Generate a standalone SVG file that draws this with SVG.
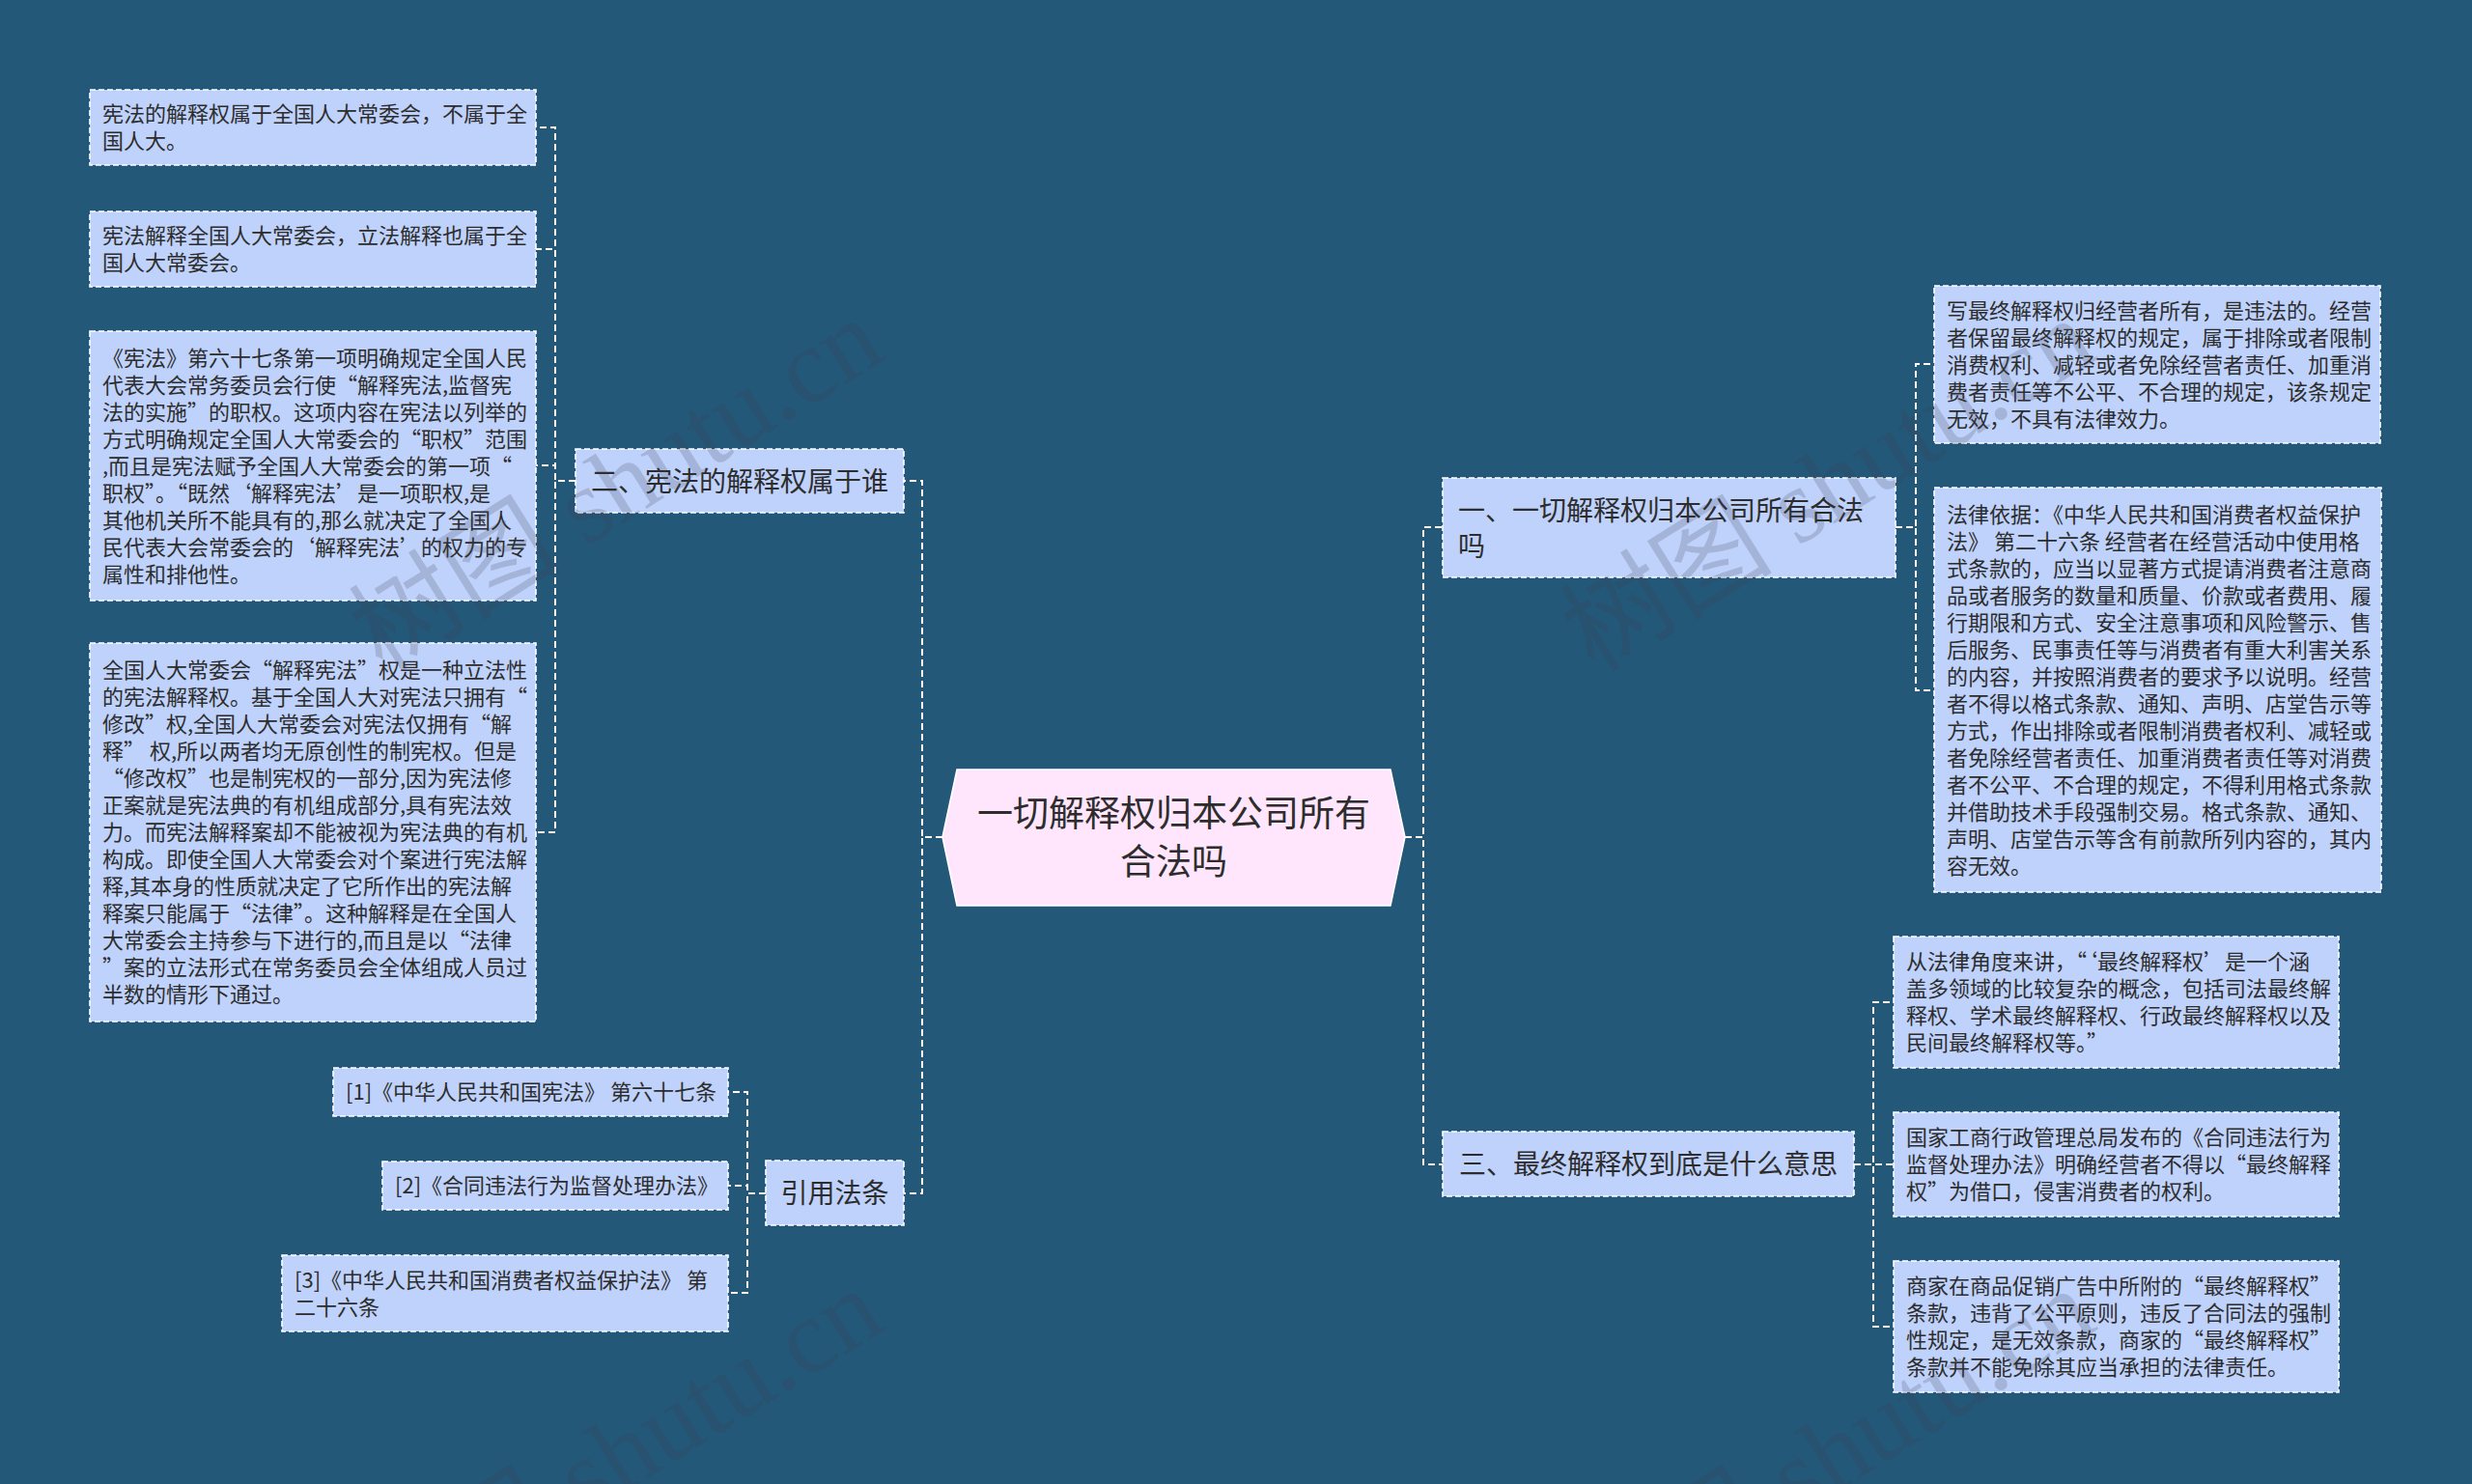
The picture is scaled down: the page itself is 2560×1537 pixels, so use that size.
<svg xmlns="http://www.w3.org/2000/svg" width="2560" height="1537" viewBox="0 0 2560 1537">
<style>
.bg{fill:#235878}
.box{fill:#bfd2fb;stroke:#ffffff;stroke-width:1.6;stroke-dasharray:6 3}
.hex{fill:#ffe6fc;stroke:#ffffff;stroke-width:1.5}
.t{font-family:"Noto Sans CJK SC","Noto Sans CJK TC",sans-serif;fill:#2d2d2d}
.s{font-size:22px}
.m{font-size:28px}
.c{font-size:37px}
.link{fill:none;stroke:#ffffff;stroke-width:2;stroke-dasharray:7 4}
.wm{font-family:"Liberation Serif","Noto Sans CJK SC",serif;font-size:110px;fill:#3a3a50;fill-opacity:0.2}
</style>
<rect class="bg" x="0" y="0" width="2560" height="1537"/>
<g id="connectors">
<path class="link" d="M976,867 H955 V498 H936"/>
<path class="link" d="M976,867 H955 V1236 H936"/>
<path class="link" d="M596,498 H575 V132 H555"/>
<path class="link" d="M596,498 H575 V258 H555"/>
<path class="link" d="M596,498 H575 V482 H555"/>
<path class="link" d="M596,498 H575 V862 H555"/>
<path class="link" d="M793,1236 H774 V1131 H754"/>
<path class="link" d="M793,1236 H774 V1228 H754"/>
<path class="link" d="M793,1236 H774 V1339 H754"/>
<path class="link" d="M1455,867 H1474 V546 H1494"/>
<path class="link" d="M1455,867 H1474 V1206 H1494"/>
<path class="link" d="M1963,546 H1984 V377 H2003"/>
<path class="link" d="M1963,546 H1984 V715 H2003"/>
<path class="link" d="M1920,1206 H1940 V1038 H1961"/>
<path class="link" d="M1920,1206 H1940 V1206 H1961"/>
<path class="link" d="M1920,1206 H1940 V1374 H1961"/>
</g>
<g id="center">
<polygon class="hex" points="976,867 991,797 1440,797 1455,867 1440,938 991,938"/>
<text class="t c" text-anchor="middle"><tspan x="1215.5" y="856">一切解释权归本公司所有</tspan><tspan x="1215.5" y="906">合法吗</tspan></text>
</g>
<g id="node-er">
<rect class="box" x="596" y="465" width="340" height="66"/>
<text class="t m" x="612" y="509">二、宪法的解释权属于谁</text>
</g>
<g id="node-l1">
<rect class="box" x="93" y="93" width="462" height="78"/>
<text class="t s"><tspan x="106" y="126">宪法的解释权属于全国人大常委会，不属于全</tspan><tspan x="106" y="154">国人大。</tspan></text>
</g>
<g id="node-l2">
<rect class="box" x="93" y="219" width="462" height="78"/>
<text class="t s"><tspan x="106" y="252">宪法解释全国人大常委会，立法解释也属于全</tspan><tspan x="106" y="280">国人大常委会。</tspan></text>
</g>
<g id="node-l3">
<rect class="box" x="93" y="343" width="462" height="279"/>
<text class="t s"><tspan x="106" y="378.5">《宪法》第六十七条第一项明确规定全国人民</tspan><tspan x="106" y="406.5">代表大会常务委员会行使“解释宪法,监督宪</tspan><tspan x="106" y="434.5">法的实施”的职权。这项内容在宪法以列举的</tspan><tspan x="106" y="462.5">方式明确规定全国人大常委会的“职权”范围</tspan><tspan x="106" y="490.5">,而且是宪法赋予全国人大常委会的第一项“</tspan><tspan x="106" y="518.5">职权”。“既然‘解释宪法’是一项职权,是</tspan><tspan x="106" y="546.5">其他机关所不能具有的,那么就决定了全国人</tspan><tspan x="106" y="574.5">民代表大会常委会的‘解释宪法’的权力的专</tspan><tspan x="106" y="602.5">属性和排他性。</tspan></text>
</g>
<g id="node-l4">
<rect class="box" x="93" y="666" width="462" height="392"/>
<text class="t s"><tspan x="106" y="702">全国人大常委会“解释宪法”权是一种立法性</tspan><tspan x="106" y="730">的宪法解释权。基于全国人大对宪法只拥有“</tspan><tspan x="106" y="758">修改”权,全国人大常委会对宪法仅拥有“解</tspan><tspan x="106" y="786">释” 权,所以两者均无原创性的制宪权。但是</tspan><tspan x="106" y="814">“修改权”也是制宪权的一部分,因为宪法修</tspan><tspan x="106" y="842">正案就是宪法典的有机组成部分,具有宪法效</tspan><tspan x="106" y="870">力。而宪法解释案却不能被视为宪法典的有机</tspan><tspan x="106" y="898">构成。即使全国人大常委会对个案进行宪法解</tspan><tspan x="106" y="926">释,其本身的性质就决定了它所作出的宪法解</tspan><tspan x="106" y="954">释案只能属于“法律”。这种解释是在全国人</tspan><tspan x="106" y="982">大常委会主持参与下进行的,而且是以“法律</tspan><tspan x="106" y="1010">”案的立法形式在常务委员会全体组成人员过</tspan><tspan x="106" y="1038">半数的情形下通过。</tspan></text>
</g>
<g id="node-yinyong">
<rect class="box" x="793" y="1202" width="143" height="67"/>
<text class="t m" x="864.5" y="1246" text-anchor="middle">引用法条</text>
</g>
<g id="node-ref1">
<rect class="box" x="345" y="1106" width="409" height="50"/>
<text class="t s" x="358" y="1139">[1]《中华人民共和国宪法》 第六十七条</text>
</g>
<g id="node-ref2">
<rect class="box" x="396" y="1203" width="358" height="50"/>
<text class="t s" x="409" y="1236">[2]《合同违法行为监督处理办法》</text>
</g>
<g id="node-ref3">
<rect class="box" x="292" y="1300" width="462" height="79"/>
<text class="t s"><tspan x="305" y="1334">[3]《中华人民共和国消费者权益保护法》 第</tspan><tspan x="305" y="1362">二十六条</tspan></text>
</g>
<g id="node-yi">
<rect class="box" x="1494" y="495" width="469" height="103"/>
<text class="t m"><tspan x="1510" y="539">一、一切解释权归本公司所有合法</tspan><tspan x="1510" y="576">吗</tspan></text>
</g>
<g id="node-r1">
<rect class="box" x="2003" y="296" width="462" height="163"/>
<text class="t s"><tspan x="2016" y="330">写最终解释权归经营者所有，是违法的。经营</tspan><tspan x="2016" y="358">者保留最终解释权的规定，属于排除或者限制</tspan><tspan x="2016" y="386">消费权利、减轻或者免除经营者责任、加重消</tspan><tspan x="2016" y="414">费者责任等不公平、不合理的规定，该条规定</tspan><tspan x="2016" y="442">无效，不具有法律效力。</tspan></text>
</g>
<g id="node-r2">
<rect class="box" x="2003" y="505" width="463" height="419"/>
<text class="t s"><tspan x="2016" y="541">法律依据：《中华人民共和国消费者权益保护</tspan><tspan x="2016" y="569">法》 第二十六条 经营者在经营活动中使用格</tspan><tspan x="2016" y="597">式条款的，应当以显著方式提请消费者注意商</tspan><tspan x="2016" y="625">品或者服务的数量和质量、价款或者费用、履</tspan><tspan x="2016" y="653">行期限和方式、安全注意事项和风险警示、售</tspan><tspan x="2016" y="681">后服务、民事责任等与消费者有重大利害关系</tspan><tspan x="2016" y="709">的内容，并按照消费者的要求予以说明。经营</tspan><tspan x="2016" y="737">者不得以格式条款、通知、声明、店堂告示等</tspan><tspan x="2016" y="765">方式，作出排除或者限制消费者权利、减轻或</tspan><tspan x="2016" y="793">者免除经营者责任、加重消费者责任等对消费</tspan><tspan x="2016" y="821">者不公平、不合理的规定，不得利用格式条款</tspan><tspan x="2016" y="849">并借助技术手段强制交易。格式条款、通知、</tspan><tspan x="2016" y="877">声明、店堂告示等含有前款所列内容的，其内</tspan><tspan x="2016" y="905">容无效。</tspan></text>
</g>
<g id="node-san">
<rect class="box" x="1494" y="1172" width="426" height="67"/>
<text class="t m" x="1511" y="1216">三、最终解释权到底是什么意思</text>
</g>
<g id="node-r3">
<rect class="box" x="1961" y="970" width="461" height="136"/>
<text class="t s"><tspan x="1974" y="1004">从法律角度来讲，“‘最终解释权’是一个涵</tspan><tspan x="1974" y="1032">盖多领域的比较复杂的概念，包括司法最终解</tspan><tspan x="1974" y="1060">释权、学术最终解释权、行政最终解释权以及</tspan><tspan x="1974" y="1088">民间最终解释权等。”</tspan></text>
</g>
<g id="node-r4">
<rect class="box" x="1961" y="1152" width="461" height="108"/>
<text class="t s"><tspan x="1974" y="1186">国家工商行政管理总局发布的《合同违法行为</tspan><tspan x="1974" y="1214">监督处理办法》明确经营者不得以“最终解释</tspan><tspan x="1974" y="1242">权”为借口，侵害消费者的权利。</tspan></text>
</g>
<g id="node-r5">
<rect class="box" x="1961" y="1306" width="461" height="136"/>
<text class="t s"><tspan x="1974" y="1340">商家在商品促销广告中所附的“最终解释权”</tspan><tspan x="1974" y="1368">条款，违背了公平原则，违反了合同法的强制</tspan><tspan x="1974" y="1396">性规定，是无效条款，商家的“最终解释权”</tspan><tspan x="1974" y="1424">条款并不能免除其应当承担的法律责任。</tspan></text>
</g>
<g id="watermarks">
<text class="wm" x="658" y="534" text-anchor="middle" transform="rotate(-32 658 534)">树图 shutu.cn</text>
<text class="wm" x="1913" y="534" text-anchor="middle" transform="rotate(-32 1913 534)">树图 shutu.cn</text>
<text class="wm" x="658" y="1539" text-anchor="middle" transform="rotate(-32 658 1539)">树图 shutu.cn</text>
<text class="wm" x="1913" y="1539" text-anchor="middle" transform="rotate(-32 1913 1539)">树图 shutu.cn</text>
</g>
</svg>
